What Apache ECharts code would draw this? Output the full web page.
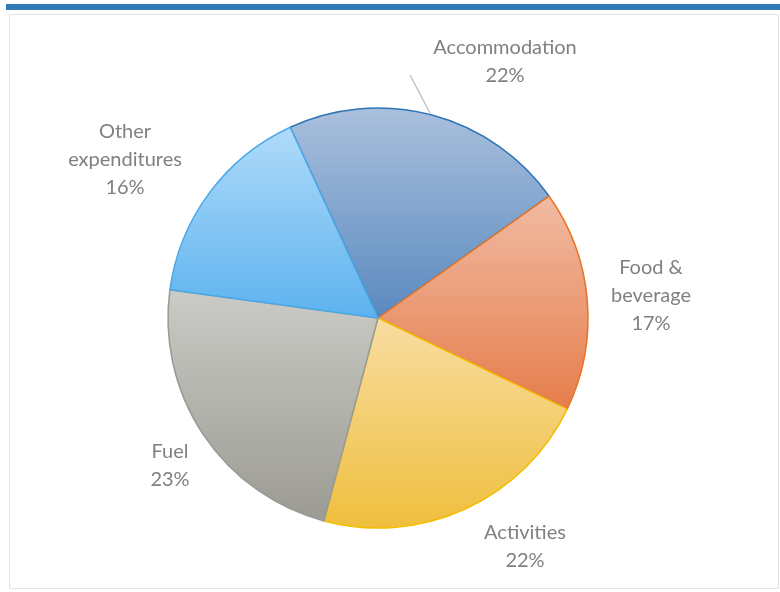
<!DOCTYPE html>
<html>
<head>
<meta charset="utf-8">
<style>
  html, body { margin: 0; padding: 0; background: #fff; }
  #chart { width: 780px; height: 592px; }
</style>
<script src="https://cdn.jsdelivr.net/npm/echarts@6.0.0/dist/echarts.min.js"></script>
</head>
<body>
<div id="chart"></div>
<script>
// --- Data ---
const categories = ['Accommodation', 'Food &\nbeverage', 'Activities', 'Fuel', 'Other\nexpenditures'];
const shares = [22, 17, 22, 23, 16];

// gradient top / bottom and edge colour per slice
const topColors = ['#aac0dd', '#f1bba3', '#f8dda2', '#cbcbc7', '#b0dbf9'];
const bottomColors = ['#5a89bf', '#e57d4b', '#efbf3d', '#9b9b93', '#5cb2ef'];
const edgeColors = ['#2e75b6', '#e87322', '#f5bd00', '#999995', '#4aa8e8'];

// label centres (px) as placed in the original figure
const labelSpots = [[505, 62], [651, 296], [525, 547], [170, 466], [125, 160]];
// leader line of the Accommodation label (from the rim up to the label)
const leaderPoints = [[430, 113], [420, 94], [410, 75]];

const chart = echarts.init(document.getElementById('chart'), null, { renderer: 'canvas' });

const pieData = categories.map(function (name, i) {
  return {
    name: name,
    value: shares[i],
    itemStyle: {
      color: new echarts.graphic.LinearGradient(0, 0, 0, 1, [
        { offset: 0, color: topColors[i] },
        { offset: 1, color: bottomColors[i] }
      ]),
      borderColor: edgeColors[i],
      borderWidth: 1.5
    },
    labelLine: { show: i === 0 }
  };
});

chart.setOption({
  animation: false,
  graphic: [
    { type: 'rect', shape: { x: 6, y: 4, width: 774, height: 6 }, style: { fill: '#2e7bb8' } },
    { type: 'rect', shape: { x: 9.5, y: 14.5, width: 769, height: 574 }, style: { fill: 'none', stroke: '#e3e3e3', lineWidth: 1 } }
  ],
  series: [{
    type: 'pie',
    center: [378, 318],
    radius: [0, 210],
    startAngle: 114.7,
    clockwise: true,
    data: pieData,
    label: {
      show: true,
      formatter: '{b}\n{d}%',
      fontFamily: 'Lato',
      fontSize: 20,
      lineHeight: 28,
      color: '#808080',
      align: 'center'
    },
    labelLine: {
      show: false,
      lineStyle: { color: '#c4c4c4', width: 1.5 }
    },
    labelLayout: function (params) {
      const p = labelSpots[params.dataIndex];
      const layout = { x: p[0], y: p[1], align: 'center', verticalAlign: 'middle' };
      if (params.dataIndex === 0) layout.labelLinePoints = leaderPoints;
      return layout;
    },
    emphasis: { disabled: true }
  }]
});
</script>
</body>
</html>
